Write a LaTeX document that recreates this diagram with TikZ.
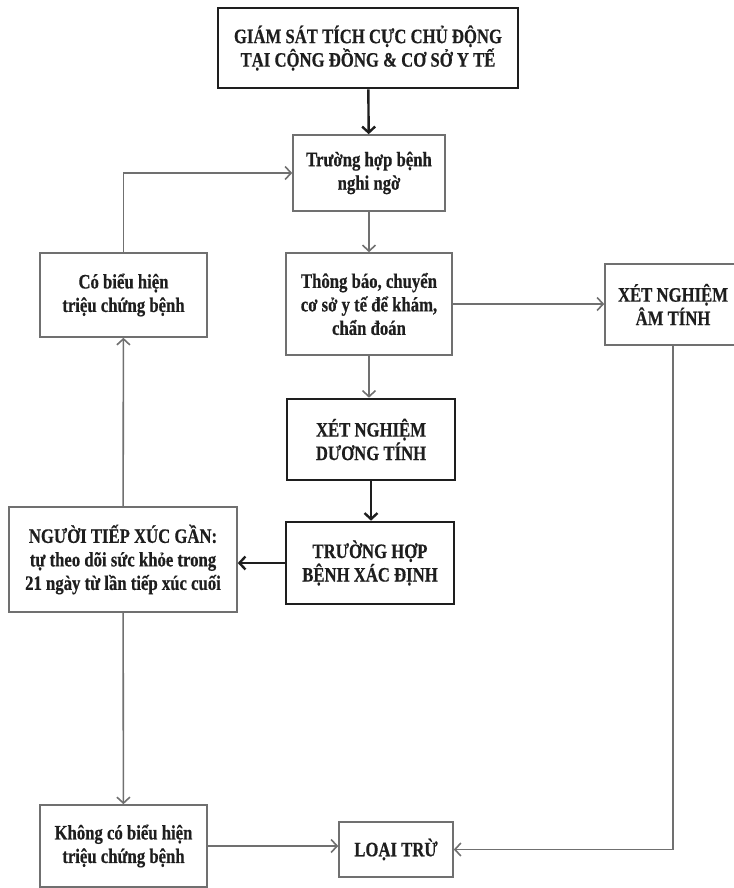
\documentclass[tikz,border=0pt]{standalone}
\usepackage{fontspec}
\setmainfont{Liberation Serif}[FakeStretch=0.815, BoldFeatures={FakeBold=0.5}]
\usetikzlibrary{arrows.meta}

\definecolor{boxgray}{HTML}{707070}
\definecolor{boxdark}{HTML}{1E1E1E}

\begin{document}
\begin{tikzpicture}[x=1pt,y=-1pt,>={Straight Barb[length=6pt,width=13pt]}]

      \useasboundingbox (0,0) rectangle (733,888);

      \begin{scope}[every node/.style={rectangle, draw=boxgray, line width=1.6pt, align=center,
          inner sep=0pt, text=boxdark, font=\bfseries\fontsize{20.5}{23.5}\selectfont},
          strongbox/.style={draw=boxdark, line width=2.6pt}]
        \node[strongbox, minimum width=300pt, minimum height=80pt]  (gs)        at (368,48)    {GIÁM SÁT TÍCH CỰC CHỦ ĐỘNG\\TẠI CỘNG ĐỒNG \& CƠ SỞ Y TẾ};
        \node[minimum width=152pt, minimum height=76pt]             (nghingo)   at (369,173)   {Trường hợp bệnh\\nghi ngờ};
        \node[minimum width=167pt, minimum height=84pt]             (cobieu)    at (123.5,295) {Có biểu hiện\\triệu chứng bệnh};
        \node[minimum width=166pt, minimum height=102pt]            (thongbao)  at (369,304)   {Thông báo, chuyển\\cơ sở y tế để khám,\\chẩn đoán};
        \node[minimum width=136pt, minimum height=81pt]             (amtinh)    at (673,304.5) {XÉT NGHIỆM\\ÂM TÍNH};
        \node[strongbox, minimum width=168pt, minimum height=81pt]  (duongtinh) at (371,439.5) {XÉT NGHIỆM\\DƯƠNG TÍNH};
        \node[strongbox, minimum width=168pt, minimum height=82pt]  (xacdinh)   at (370,563)   {TRƯỜNG HỢP\\BỆNH XÁC ĐỊNH};
        \node[minimum width=228pt, minimum height=105pt]            (tiepxuc)   at (123,559.5) {NGƯỜI TIẾP XÚC GẦN:\\tự theo dõi sức khỏe trong\\21 ngày từ lần tiếp xúc cuối};
        \node[minimum width=167pt, minimum height=82pt]             (khongco)   at (123.5,846) {Không có biểu hiện\\triệu chứng bệnh};
        \node[minimum width=114pt, minimum height=55pt]             (loaitru)   at (396,849.5) {LOẠI TRỪ};
      \end{scope}

      \begin{scope}[every path/.style={draw=boxgray, line width=1.6pt, ->}]
        \path (nghingo)         -- (thongbao);
        \path (thongbao.south)  -- (thongbao.south |- duongtinh.north);
        \path (thongbao.east)   -- (thongbao.east -| amtinh.west);
        \path (cobieu.north)    |- (nghingo.west);
        \path (tiepxuc)         -- (cobieu);
        \path (tiepxuc)         -- (khongco);
        \path (khongco.east)    -- (khongco.east -| loaitru.west);
        \path (amtinh.south)    |- (loaitru.east);
      \end{scope}

      \begin{scope}[every path/.style={draw=boxdark, line width=2.4pt, ->}]
        \path (gs)              -- (nghingo);
        \path (duongtinh.south) -- (duongtinh.south |- xacdinh.north);
        \path (xacdinh.west)    -- (xacdinh.west -| tiepxuc.east);
      \end{scope}

    \end{tikzpicture}
\end{document}
